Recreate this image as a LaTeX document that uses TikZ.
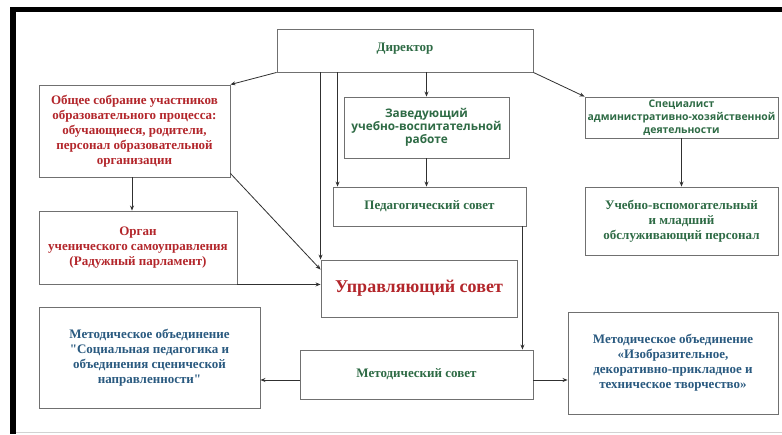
\documentclass[tikz,border=0pt]{standalone}
\usepackage{fontspec}
\setmainfont{Liberation Serif}
\newfontfamily\sansb{Open Sans}
\newfontfamily\qfont{Liberation Serif}[Ligatures=TeXOff]
\newcommand{\sq}{{\qfont\bfseries "}}
\usetikzlibrary{calc,arrows.meta}
\definecolor{cred}{HTML}{B3262B}
\definecolor{cgreen}{HTML}{2E6B45}
\definecolor{cblue}{HTML}{2A5A80}
\definecolor{cline}{HTML}{707070}
\definecolor{carrow}{HTML}{303030}
\tikzset{
  box/.style={draw=cline, line width=0.9pt, inner sep=0pt, align=center, font=\bfseries\fontsize{13}{15}\selectfont},
  redt/.style={text=cred},
  greent/.style={text=cgreen},
  bluet/.style={text=cblue},
  arr/.style={draw=carrow, line width=0.8pt, -{Stealth[length=5pt,width=4pt]}},
}
\begin{document}
\begin{tikzpicture}[x=1pt,y=-1pt]
\fill[white] (0,0) rectangle (782,434);
\useasboundingbox (0,0) rectangle (782,434);
% frame
\fill[black] (10,7) rectangle (16,434);
\fill[black] (10,7) rectangle (782,12);
\draw[gray!35, line width=0.8pt] (16,432) -- (782,432);

% boxes
\node[box, greent, minimum width=256pt, minimum height=43pt] (dir) at (405,50.5) {\raisebox{7pt}{Директор}};
\node[box, redt, minimum width=191pt, minimum height=92pt] (os) at (134.5,131)
  {\raisebox{-6pt}{\begin{tabular}{@{}c@{}}Общее собрание участников\\образовательного процесса:\\обучающиеся, родители,\\персонал образовательной\\организации\end{tabular}}};
\node[box, greent, minimum width=165pt, minimum height=61pt, font=\sansb\bfseries\fontsize{11.8}{13}\selectfont] (zav) at (426.5,127.5)
  {Заведующий\\учебно-воспитательной\\работе};
\node[box, greent, minimum width=193pt, minimum height=41pt, font=\sansb\bfseries\fontsize{10.4}{13}\selectfont] (spec) at (681.5,117.5)
  {Специалист\\административно-хозяйственной\\деятельности};
\node[box, greent, minimum width=193pt, minimum height=39pt] (ped) at (429.5,206.5)
  {\raisebox{-3pt}{Педагогический совет}};
\node[box, greent, minimum width=193pt, minimum height=68pt] (uv) at (681.5,221)
  {\raisebox{-4pt}{\begin{tabular}{@{}c@{}}Учебно-вспомогательный\\и младший\\обслуживающий персонал\end{tabular}}};
\node[box, redt, minimum width=198pt, minimum height=73pt] (org) at (138,247.5)
  {Орган\\ученического самоуправления\\(Радужный парламент)};
\node[box, redt, minimum width=196pt, minimum height=57pt, font=\bfseries\fontsize{18}{22}\selectfont] (upr) at (419,288.5)
  {Управляющий совет};
\node[box, bluet, minimum width=221pt, minimum height=101pt] (mol) at (149.5,357.5)
  {\raisebox{-3pt}{\begin{tabular}{@{}c@{}}Методическое объединение\\\sq Социальная педагогика и\\объединения сценической\\направленности\sq\end{tabular}}};
\node[box, greent, minimum width=233pt, minimum height=49pt] (ms) at (416.5,374.5)
  {\raisebox{2pt}{Методический совет}};
\node[box, bluet, minimum width=210pt, minimum height=102pt] (mor) at (673,363)
  {\raisebox{6pt}{\begin{tabular}{@{}c@{}}Методическое объединение\\«Изобразительное,\\декоративно-прикладное и\\техническое творчество»\end{tabular}}};

% connectors
\draw[arr] (dir.south west) -- (os.north east);
\draw[arr] (dir.south east) -- (spec.north west);
\draw[arr] (zav.north |- dir.south) -- (zav.north);
\draw[arr] (dir.south -| upr.north west) -- (upr.north west);
\coordinate (pedin) at ($(ped.north west)+(5,0)$);
\draw[arr] (dir.south -| pedin) -- (pedin);
\draw[arr] (zav.south) -- (zav.south |- ped.north);
\draw[arr] (spec.south) -- (uv.north);
\coordinate (osout) at ($(os.south)+(-2.5,0)$);
\draw[arr] (osout) -- (osout |- org.north);
\draw[arr] ($(os.south east)+(0,-4)$) -- ($(upr.north west)+(0,10)$);
\draw[arr] (org.south east) -- (org.south east -| upr.west);
\coordinate (pedout) at ($(ped.south east)+(-4,0)$);
\draw[arr] (pedout) -- (pedout |- ms.north);
\coordinate (msl) at ($(ms.west)+(0,5.5)$);
\draw[arr] (msl) -- (msl -| mol.east);
\coordinate (msr) at ($(ms.east)+(0,5.5)$);
\draw[arr] (msr) -- (msr -| mor.west);
\end{tikzpicture}
\end{document}
